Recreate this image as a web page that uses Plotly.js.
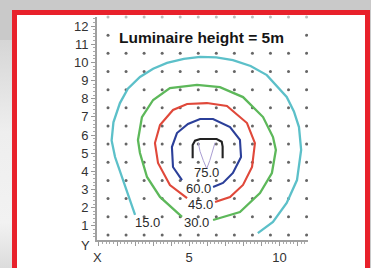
<!DOCTYPE html>
<html>
<head>
<meta charset="utf-8">
<script src="https://cdn.plot.ly/plotly-3.0.1.min.js"></script>
<style>
  html, body { margin:0; padding:0; width:371px; height:268px; overflow:hidden; background:#c9c9c9; }
  #strip { position:absolute; left:0; top:40px; width:12px; height:228px; background:linear-gradient(#d6d6d6,#eeeeee 40%,#f2f2f2 80%,#dcdcdc); }
  #frame { position:absolute; left:12px; top:10px; width:348px; height:268px; border:5px solid #e8212b; background:#ffffff; }
  #chart { position:absolute; left:0; top:0; width:371px; height:268px; }
</style>
</head>
<body>
<div id="strip"></div>
<div id="frame"></div>
<div id="chart"></div>
<script>
// ---- data ----
const gridX = [0.5,1.5,2.5,3.5,4.5,5.5,6.5,7.5,8.5,9.5,10.5,11.5];
const gridY = [0.5,1.5,2.5,3.5,4.5,5.5,6.5,7.5,8.5,9.5,10.5];
const titleRowX = [0.5, 11.5];
const titleRowY = 11.5;
const topRowY = 12.5;

const c15x = [2.0,1.45,0.89,0.7,0.8,1.16,1.6,2.27,3.0,3.77,4.7,5.6,6.5,7.42,8.4,9.3,10.4,10.8,11.08,11.2,10.97,10.4,9.64,8.8];
const c15y = [1.6,3.2,4.79,5.7,6.7,7.76,8.55,9.2,9.65,9.97,10.2,10.3,10.28,10.13,9.8,9.3,8.1,7.3,6.44,5.18,3.52,2.26,1.21,0.6];

const c30x = [4.6,3.38,2.66,2.27,2.16,2.38,3.0,3.93,5.43,6.7,7.98,9.09,9.64,9.8,9.58,8.92,7.81,6.32];
const c30y = [1.49,2.59,3.69,5.01,5.73,6.99,7.93,8.59,8.76,8.64,8.09,6.99,5.89,5.18,3.91,2.81,1.76,1.32];

const c45x = [4.88,3.93,3.27,3.1,3.38,4.1,4.88,5.98,7.09,8.2,8.64,8.48,7.98,7.26,6.43];
const c45y = [2.53,3.25,4.46,5.56,6.55,7.38,7.71,7.76,7.6,6.66,5.56,4.24,3.25,2.59,2.31];

const c60x = [4.6,4.1,4.04,4.32,4.93,5.6,6.32,7.26,7.81,7.87,7.42,6.87,6.32];
const c60y = [3.52,4.24,5.34,6.11,6.61,6.88,6.88,6.44,5.73,4.79,3.91,3.36,3.14];

const c75x = [5.19,5.19,5.32,5.6,6.52,6.8,6.85,6.85];
const c75y = [4.72,5.45,5.69,5.78,5.78,5.63,5.36,4.72];

const innerX = [5.5,5.6,5.78,5.97,6.14,6.3,6.43];
const innerY = [5.58,5.1,4.6,4.15,4.6,5.1,5.58];

const levels = ['15.0','30.0','45.0','60.0','75.0'];
const labelX = [2.66,5.43,5.65,5.54,5.93];
const labelY = [1.16,1.16,2.15,3.03,3.96];

const xTickVals = [0,1,2,3,4,5,6,7,8,9,10,11];
const xTickText = ['','','','','','5','','','','','10',''];
const yTickVals = [1,2,3,4,5,6,7,8,9,10,11,12];

const chartTitle = 'Luminaire height = 5m';

// ---- build ----
const dx = [], dy = [];
gridY.forEach(y => gridX.forEach(x => { dx.push(x); dy.push(y); }));
titleRowX.forEach(x => { dx.push(x); dy.push(titleRowY); });
const tx = [], ty = [];
gridX.forEach(x => { tx.push(x); ty.push(topRowY); });

function line(x, y, color, w) {
  return {x:x, y:y, type:'scatter', mode:'lines', line:{color:color, width:w}, hoverinfo:'skip', showlegend:false};
}

const traces = [
  {x:dx, y:dy, type:'scatter', mode:'markers', marker:{size:3, color:'#666666'}, hoverinfo:'skip', showlegend:false},
  {x:tx, y:ty, type:'scatter', mode:'markers', marker:{size:3, color:'#bdbdbd'}, hoverinfo:'skip', showlegend:false, cliponaxis:false},
  line(c15x, c15y, '#5cc0c9', 2.3),
  line(c30x, c30y, '#5db85a', 2.3),
  line(c45x, c45y, '#e0483a', 2.1),
  line(c60x, c60y, '#2b3f99', 2.1),
  line(innerX, innerY, '#a99dd2', 1),
  line(c75x, c75y, '#222222', 2.1)
];

const annotations = levels.map((t, i) => ({
  x: labelX[i], y: labelY[i], xref:'x', yref:'y', text:t, showarrow:false,
  font:{family:'Liberation Sans, Arial, sans-serif', size:13, color:'#2a2a2a'}
}));
annotations.push({x:5.7, y:11.38, xref:'x', yref:'y', text:'<b>'+chartTitle+'</b>', showarrow:false,
  font:{family:'Liberation Sans, Arial, sans-serif', size:15.5, color:'#151515'}});
annotations.push({x:0, y:0, xref:'paper', yref:'paper', text:'X', showarrow:false,
  xanchor:'center', yanchor:'middle', yshift:-17, font:{family:'Liberation Sans, Arial, sans-serif', size:13, color:'#333'}});
annotations.push({x:0, y:0, xref:'paper', yref:'paper', text:'Y', showarrow:false,
  xanchor:'center', yanchor:'middle', xshift:-12, yshift:-5, font:{family:'Liberation Sans, Arial, sans-serif', size:13, color:'#333'}});

const layout = {
  width:371, height:268,
  margin:{l:97, r:63, t:17, b:28, pad:0},
  paper_bgcolor:'rgba(0,0,0,0)', plot_bgcolor:'rgba(0,0,0,0)',
  showlegend:false,
  font:{family:'Liberation Sans, Arial, sans-serif', size:13, color:'#333'},
  xaxis:{range:[-0.11,11.58], showgrid:false, zeroline:false, showline:true, linecolor:'#a0a0a0', linewidth:2,
    tickmode:'array', tickvals:xTickVals, ticktext:xTickText, ticks:'outside', ticklen:4, tickcolor:'#999', tickwidth:1,
    minor:{dtick:0.2, ticks:'outside', ticklen:2, tickcolor:'#aaa', showgrid:false},
    tickfont:{size:13, color:'#333'}, fixedrange:true},
  yaxis:{range:[0.22,12.5], showgrid:false, zeroline:false, showline:true, linecolor:'#a0a0a0', linewidth:2,
    tickmode:'array', tickvals:yTickVals, ticks:'outside', ticklen:4, tickcolor:'#999', tickwidth:1,
    minor:{dtick:0.2, ticks:'outside', ticklen:2, tickcolor:'#aaa', showgrid:false},
    tickfont:{size:13, color:'#333'}, fixedrange:true},
  annotations:annotations
};

Plotly.newPlot('chart', traces, layout, {displayModeBar:false, staticPlot:true});
</script>
</body>
</html>
